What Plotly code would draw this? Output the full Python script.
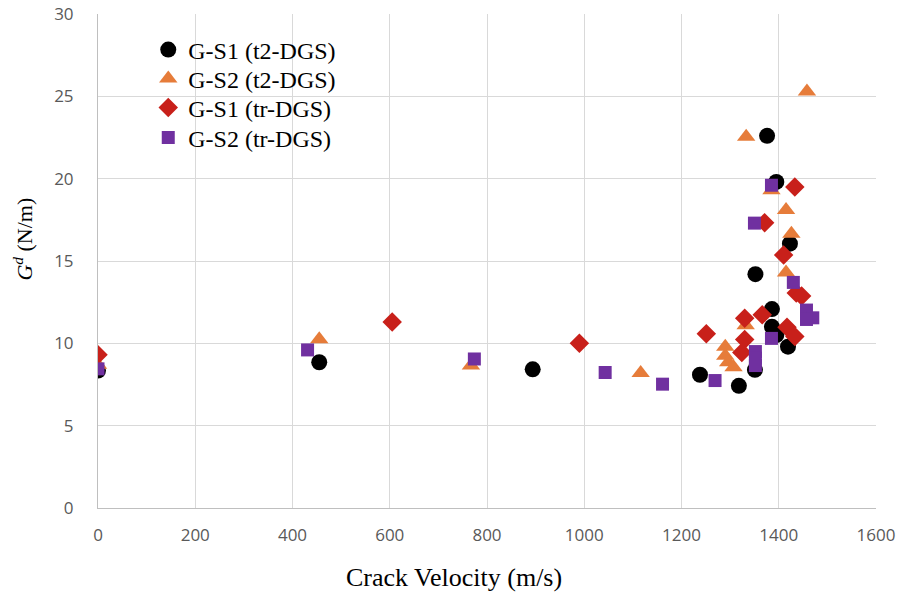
import plotly.graph_objects as go

# G-S1 (t2-DGS)
s1_t2_x = [0, 455, 894, 1238, 1318, 1351, 1352, 1376, 1395, 1423, 1386, 1386, 1395, 1419]
s1_t2_y = [8.35, 8.85, 8.42, 8.09, 7.42, 8.39, 14.2, 22.6, 19.8, 16.05, 12.08, 11.0, 10.5, 9.8]

# G-S2 (t2-DGS)
s2_t2_x = [0, 455, 767, 1116, 1290, 1290, 1296, 1307, 1332, 1333, 1385, 1415, 1426, 1415, 1458]
s2_t2_y = [8.7, 10.25, 8.65, 8.2, 9.8, 9.25, 8.85, 8.55, 11.1, 22.55, 19.3, 18.1, 16.65, 14.3, 25.3]

# G-S1 (tr-DGS)
s1_tr_x = [0, 605, 990, 1251, 1330, 1366, 1330, 1324, 1417, 1433, 1436, 1447, 1410, 1433, 1371]
s1_tr_y = [9.3, 11.3, 10.0, 10.58, 11.53, 11.73, 10.24, 9.44, 10.98, 10.41, 13.05, 12.87, 15.36, 19.5, 17.33]

# G-S2 (tr-DGS)
s2_tr_x = [0, 431, 774, 1043, 1161, 1269, 1352, 1352, 1352, 1385, 1430, 1457, 1470, 1457, 1385, 1350]
s2_tr_y = [8.45, 9.6, 9.05, 8.23, 7.52, 7.74, 9.5, 9.1, 8.65, 10.3, 13.7, 12.02, 11.55, 11.45, 19.6, 17.3]

names = ["G-S1 (t2-DGS)", "G-S2 (t2-DGS)", "G-S1 (tr-DGS)", "G-S2 (tr-DGS)"]
colors = ["#000000", "#E67C3A", "#C8201A", "#7030A0"]
symbols = ["circle", "triangle-up", "diamond", "square"]
sizes = [16, 16, 15, 13]

xticks = [0, 200, 400, 600, 800, 1000, 1200, 1400, 1600]
yticks = [0, 5, 10, 15, 20, 25, 30]

legend_ids = ["legend", "legend2", "legend3", "legend4"]
legend_rows = [0.9271, 0.8684, 0.8097, 0.749]

fig = go.Figure()
for xs, ys, n, c, s, sz, lg in zip([s1_t2_x, s2_t2_x, s1_tr_x, s2_tr_x],
                                   [s1_t2_y, s2_t2_y, s1_tr_y, s2_tr_y],
                                   names, colors, symbols, sizes, legend_ids):
    fig.add_trace(go.Scatter(x=xs, y=ys, mode="markers", name=n, legend=lg,
                             marker=dict(color=c, symbol=s, size=sz, line=dict(width=0))))

tickfont = dict(family="Open Sans", size=17, color="#595959")
serif = "Liberation Serif"

legend_layout = {}
for lg, ly in zip(legend_ids, legend_rows):
    legend_layout[lg] = dict(x=0.0646, y=ly, xanchor="left", yanchor="middle",
                             font=dict(family=serif, size=24, color="black"),
                             bgcolor="rgba(0,0,0,0)", itemsizing="trace")

fig.update_layout(
    width=898, height=595,
    margin=dict(l=98, r=22, t=14, b=87),
    paper_bgcolor="white", plot_bgcolor="white",
    showlegend=True,
    xaxis=dict(range=[0, 1600], tickvals=xticks, ticktext=[str(v) for v in xticks],
               showgrid=True, gridcolor="#D9D9D9", gridwidth=1, automargin=False,
               zeroline=False, showline=True, linecolor="#BFBFBF", linewidth=1,
               ticks="", tickfont=tickfont, ticklabelstandoff=12),
    yaxis=dict(range=[0, 30], tickvals=yticks, ticktext=[str(v) for v in yticks],
               showgrid=True, gridcolor="#D9D9D9", gridwidth=1, automargin=False,
               zeroline=False, showline=True, linecolor="#BFBFBF", linewidth=1,
               ticks="", tickfont=tickfont, ticklabelstandoff=20),
    annotations=[
        dict(text="Crack Velocity (m/s)", xref="paper", yref="paper",
             x=0.4576, y=-0.1417, xanchor="center", yanchor="middle", showarrow=False,
             font=dict(family=serif, size=26, color="black")),
        dict(text="<i>G</i><sup><i>d</i></sup> (N/m)", xref="paper", yref="paper",
             x=-0.0966, y=0.545, xanchor="center", yanchor="middle", showarrow=False,
             textangle=-90, font=dict(family=serif, size=22, color="black")),
    ],
    **legend_layout,
)

fig.write_html("out.html")
